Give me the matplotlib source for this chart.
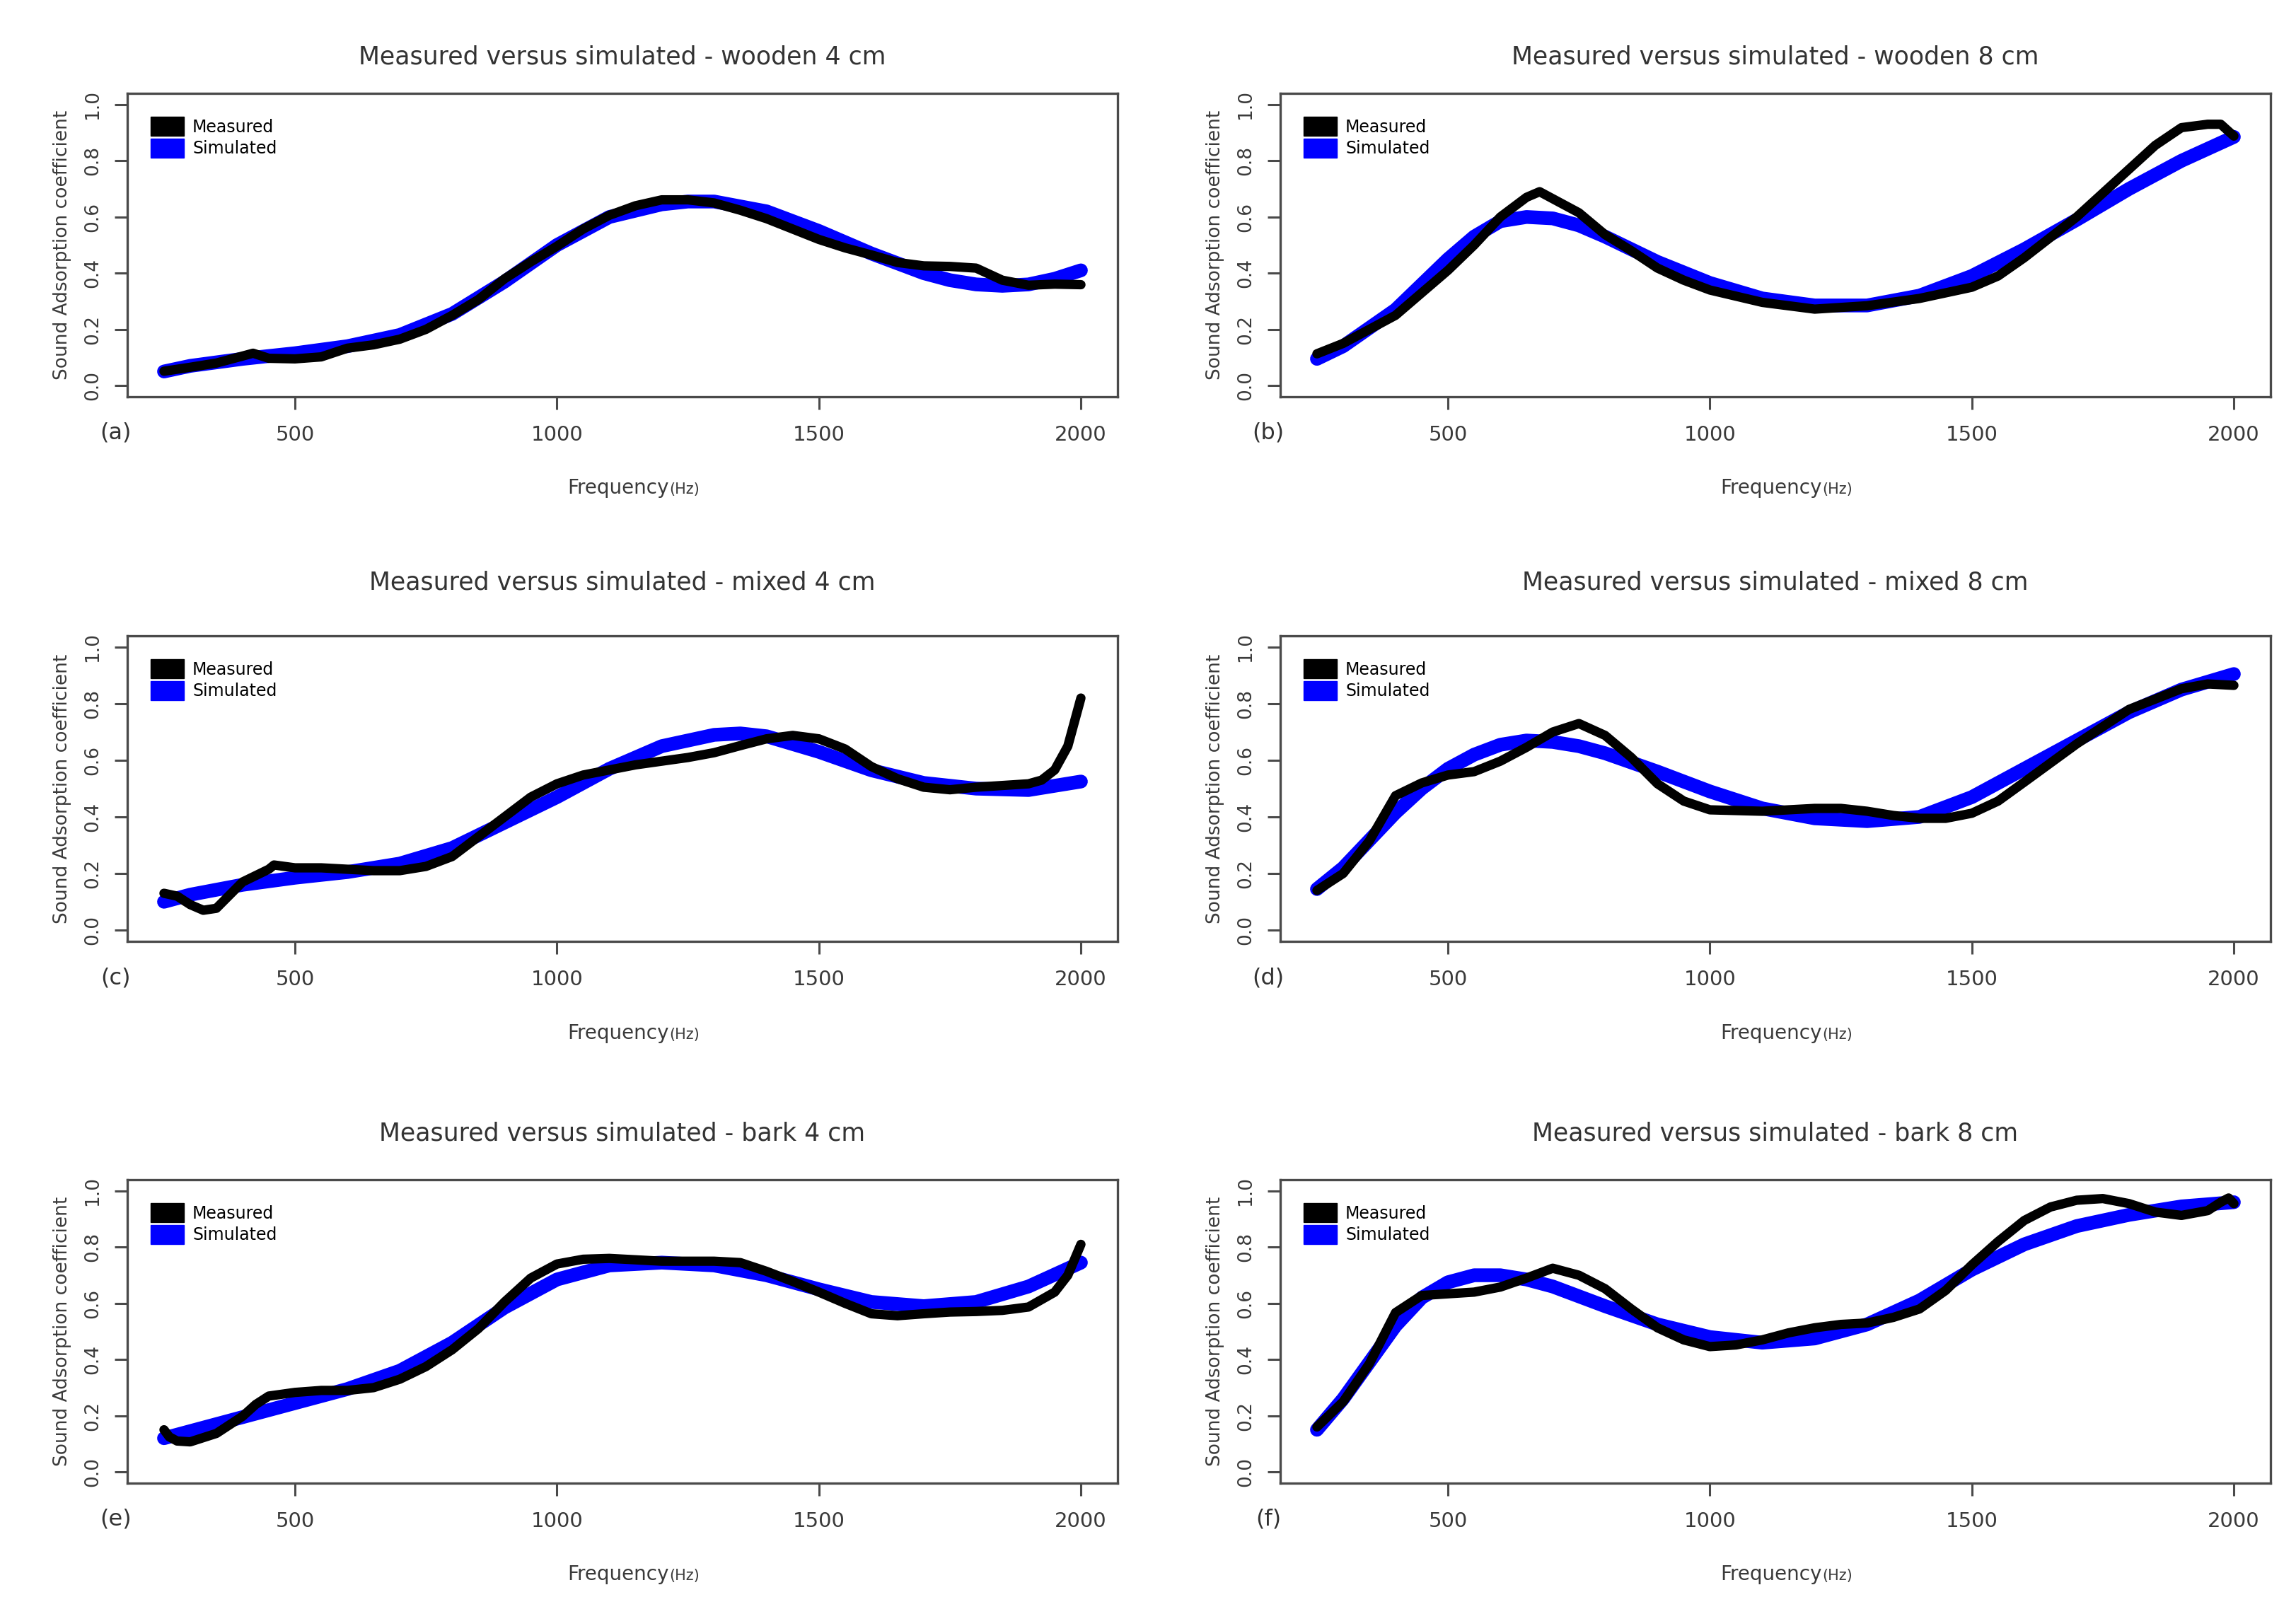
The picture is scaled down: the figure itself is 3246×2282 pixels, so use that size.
import matplotlib
matplotlib.use('Agg')
import matplotlib.pyplot as plt
from matplotlib.patches import Patch

# ── DATA ──────────────────────────────────────────────────────────────────────
# (a) wooden 4 cm
f_meas_a = [250, 300, 350, 400, 420, 450, 500, 550, 600, 650, 700, 750, 800, 850, 900, 950,
            1000, 1050, 1100, 1150, 1200, 1250, 1300, 1350, 1400, 1450, 1500, 1550, 1600,
            1650, 1700, 1750, 1800, 1850, 1900, 1950, 2000]
meas_a = [0.051, 0.065, 0.080, 0.105, 0.115, 0.097, 0.095, 0.102, 0.133, 0.145, 0.165, 0.200,
          0.250, 0.306, 0.380, 0.440, 0.496, 0.557, 0.606, 0.640, 0.661, 0.661, 0.650, 0.624,
          0.594, 0.557, 0.520, 0.490, 0.465, 0.438, 0.426, 0.424, 0.418, 0.375, 0.357, 0.361, 0.359]
f_sim_a = [250, 300, 400, 500, 600, 700, 800, 900, 1000, 1100, 1200, 1250, 1300, 1400, 1500,
           1600, 1700, 1750, 1800, 1850, 1900, 1950, 2000]
sim_a = [0.050, 0.070, 0.095, 0.115, 0.140, 0.180, 0.255, 0.370, 0.500, 0.600, 0.645, 0.655,
         0.655, 0.620, 0.550, 0.470, 0.400, 0.375, 0.360, 0.355, 0.360, 0.380, 0.410]

# (b) wooden 8 cm
f_meas_b = [250, 300, 350, 400, 450, 500, 550, 600, 650, 675, 700, 750, 800, 850, 900, 950,
            1000, 1100, 1200, 1300, 1400, 1500, 1550, 1600, 1700, 1800, 1850, 1900, 1950,
            1975, 2000]
meas_b = [0.113, 0.150, 0.200, 0.250, 0.330, 0.410, 0.500, 0.600, 0.670, 0.690, 0.665, 0.615,
          0.537, 0.480, 0.418, 0.375, 0.340, 0.296, 0.272, 0.284, 0.310, 0.350, 0.390, 0.455,
          0.600, 0.770, 0.855, 0.918, 0.930, 0.930, 0.888]
f_sim_b = [250, 300, 400, 500, 550, 600, 650, 700, 750, 800, 900, 1000, 1100, 1200, 1300,
           1400, 1500, 1600, 1700, 1800, 1900, 2000]
sim_b = [0.095, 0.140, 0.270, 0.450, 0.530, 0.585, 0.600, 0.595, 0.570, 0.530, 0.440, 0.365,
         0.310, 0.285, 0.285, 0.320, 0.390, 0.485, 0.590, 0.700, 0.800, 0.885]

# (c) mixed 4 cm
f_meas_c = [250, 275, 300, 325, 350, 400, 450, 460, 500, 550, 600, 650, 700, 750, 800, 850,
            900, 950, 1000, 1050, 1100, 1150, 1200, 1250, 1300, 1350, 1400, 1450, 1500, 1550,
            1600, 1650, 1700, 1750, 1800, 1850, 1900, 1925, 1950, 1975, 2000]
meas_c = [0.130, 0.120, 0.090, 0.070, 0.077, 0.170, 0.215, 0.230, 0.220, 0.220, 0.215, 0.210,
          0.210, 0.225, 0.260, 0.330, 0.400, 0.470, 0.517, 0.548, 0.566, 0.584, 0.597, 0.610,
          0.627, 0.652, 0.676, 0.688, 0.676, 0.640, 0.578, 0.535, 0.505, 0.496, 0.505, 0.511,
          0.517, 0.530, 0.566, 0.650, 0.820]
f_sim_c = [250, 300, 400, 500, 600, 700, 800, 900, 1000, 1100, 1200, 1300, 1350, 1400, 1500,
           1600, 1700, 1800, 1900, 2000]
sim_c = [0.100, 0.125, 0.160, 0.185, 0.205, 0.235, 0.290, 0.380, 0.470, 0.570, 0.650, 0.690,
         0.695, 0.685, 0.630, 0.565, 0.520, 0.500, 0.495, 0.525]

# (d) mixed 8 cm
f_meas_d = [250, 300, 350, 400, 450, 500, 550, 600, 650, 700, 750, 800, 850, 900, 950, 1000,
            1100, 1200, 1250, 1300, 1350, 1400, 1450, 1500, 1550, 1600, 1700, 1800, 1900,
            1950, 2000]
meas_d = [0.140, 0.200, 0.315, 0.475, 0.520, 0.548, 0.560, 0.597, 0.646, 0.700, 0.730, 0.688,
          0.610, 0.517, 0.456, 0.425, 0.420, 0.430, 0.430, 0.420, 0.405, 0.395, 0.395, 0.413,
          0.456, 0.523, 0.658, 0.780, 0.853, 0.870, 0.865]
f_sim_d = [250, 300, 400, 450, 500, 550, 600, 650, 700, 750, 800, 900, 1000, 1100, 1200,
           1300, 1400, 1500, 1600, 1700, 1800, 1900, 2000]
sim_d = [0.145, 0.220, 0.415, 0.500, 0.570, 0.620, 0.655, 0.670, 0.665, 0.650, 0.625, 0.560,
         0.490, 0.430, 0.395, 0.385, 0.400, 0.470, 0.570, 0.670, 0.770, 0.850, 0.905]

# (e) bark 4 cm
f_meas_e = [250, 260, 275, 300, 350, 400, 425, 450, 500, 550, 600, 650, 700, 750, 800, 850,
            900, 950, 1000, 1050, 1100, 1200, 1300, 1350, 1400, 1450, 1500, 1550, 1600, 1650,
            1700, 1750, 1800, 1850, 1900, 1950, 1975, 2000]
meas_e = [0.150, 0.125, 0.110, 0.107, 0.137, 0.198, 0.240, 0.270, 0.283, 0.290, 0.290, 0.300,
          0.330, 0.375, 0.435, 0.510, 0.605, 0.690, 0.740, 0.757, 0.760, 0.750, 0.750, 0.745,
          0.714, 0.678, 0.640, 0.600, 0.563, 0.556, 0.563, 0.569, 0.571, 0.575, 0.587, 0.640,
          0.700, 0.810]
f_sim_e = [250, 300, 400, 500, 600, 700, 800, 900, 1000, 1100, 1200, 1300, 1400, 1500, 1600,
           1700, 1800, 1900, 2000]
sim_e = [0.120, 0.145, 0.195, 0.245, 0.295, 0.360, 0.460, 0.585, 0.685, 0.735, 0.745, 0.735,
         0.700, 0.650, 0.605, 0.590, 0.605, 0.660, 0.745]

# (f) bark 8 cm
f_meas_f = [250, 300, 350, 400, 450, 500, 550, 600, 650, 700, 750, 800, 850, 900, 950, 1000,
            1050, 1100, 1150, 1200, 1250, 1300, 1350, 1400, 1450, 1500, 1550, 1600, 1650,
            1700, 1750, 1800, 1850, 1900, 1950, 1975, 1990, 2000]
meas_f = [0.160, 0.250, 0.385, 0.567, 0.628, 0.634, 0.640, 0.658, 0.690, 0.725, 0.700, 0.652,
          0.580, 0.513, 0.470, 0.446, 0.452, 0.470, 0.495, 0.513, 0.525, 0.530, 0.550, 0.580,
          0.646, 0.737, 0.820, 0.895, 0.943, 0.967, 0.973, 0.955, 0.925, 0.913, 0.930, 0.960,
          0.975, 0.955]
f_sim_f = [250, 300, 350, 400, 450, 500, 550, 600, 650, 700, 800, 900, 1000, 1100, 1200,
           1300, 1400, 1500, 1600, 1700, 1800, 1900, 2000]
sim_f = [0.150, 0.260, 0.390, 0.520, 0.620, 0.675, 0.700, 0.700, 0.685, 0.660, 0.590, 0.525,
         0.480, 0.460, 0.475, 0.525, 0.610, 0.720, 0.810, 0.875, 0.915, 0.945, 0.960]

titles = ['wooden 4 cm', 'wooden 8 cm', 'mixed 4 cm', 'mixed 8 cm', 'bark 4 cm', 'bark 8 cm']
tags = ['(a)', '(b)', '(c)', '(d)', '(e)', '(f)']
x_ticks = [500, 1000, 1500, 2000]
y_ticks = [0.0, 0.2, 0.4, 0.6, 0.8, 1.0]

panels = [(f_meas_a, meas_a, f_sim_a, sim_a), (f_meas_b, meas_b, f_sim_b, sim_b),
          (f_meas_c, meas_c, f_sim_c, sim_c), (f_meas_d, meas_d, f_sim_d, sim_d),
          (f_meas_e, meas_e, f_sim_e, sim_e), (f_meas_f, meas_f, f_sim_f, sim_f)]

# ── LAYOUT ────────────────────────────────────────────────────────────────────
W, H = 3246, 2282
COLS = [180, 1810]               # axes left edge (px)
ROWS = [(132, 561), (899, 1331), (1668, 2097)]   # axes top / bottom (px)
TITLE_PAD = [30, 47, 40]         # title distance per row (pt)
AX_W = 1400

FRAME = '#4a4a4a'
TXT = '#333333'
NARROW = ['Liberation Sans Narrow', 'DejaVu Sans']

fig = plt.figure(figsize=(W / 100, H / 100), dpi=100)

for i, (fm, m, fs, s) in enumerate(panels):
    r, c = divmod(i, 2)
    top, bot = ROWS[r]
    ax = fig.add_axes([COLS[c] / W, 1 - bot / H, AX_W / W, (bot - top) / H])

    ax.plot(fs, s, color='#0000ff', lw=14, solid_capstyle='round', solid_joinstyle='round')
    ax.plot(fm, m, color='black', lw=9.5, solid_capstyle='round', solid_joinstyle='round')

    ax.set_xlim(180, 2070)
    ax.set_ylim(-0.04, 1.04)
    ax.set_xticks(x_ticks)
    ax.set_xticklabels([str(v) for v in x_ticks], family=NARROW, fontsize=21, color='#3a3a3a')
    ax.set_yticks(y_ticks)
    ax.set_yticklabels([f'{v:.1f}' for v in y_ticks], fontsize=19, color='#3a3a3a',
                       rotation=90, va='center')
    ax.tick_params(axis='both', direction='out', length=13, width=2.2, color=FRAME)
    ax.tick_params(axis='x', pad=16)
    ax.tick_params(axis='y', pad=13)
    for sp in ax.spines.values():
        sp.set_color(FRAME)
        sp.set_linewidth(2.4)

    ax.set_ylabel('Sound Adsorption coefficient', fontsize=19, color='#3a3a3a', labelpad=12)
    ax.set_title('Measured versus simulated - ' + titles[i], family=NARROW, fontsize=25,
                 color=TXT, pad=TITLE_PAD[r])

    # x-axis label: "Frequency" with a smaller "(Hz)"
    ax.text(0.547, -0.30, 'Frequency', transform=ax.transAxes, ha='right', va='center',
            fontsize=20, color='#3a3a3a')
    ax.text(0.547, -0.305, '(Hz)', transform=ax.transAxes, ha='left', va='center',
            fontsize=15, color='#3a3a3a')
    ax.text(-0.012, -0.12, tags[i], transform=ax.transAxes, ha='center', va='center',
            fontsize=23, color=TXT)

    handles = [Patch(facecolor='black', edgecolor='black'),
               Patch(facecolor='#0000ff', edgecolor='#0000ff')]
    ax.legend(handles, ['Measured', 'Simulated'], loc='upper left', frameon=False,
              handlelength=2.0, handleheight=1.4, handletextpad=0.5,
              labelspacing=0.15, borderaxespad=1.0, prop={'family': NARROW, 'size': 17})

fig.savefig('out.png', dpi=100, facecolor='white')
